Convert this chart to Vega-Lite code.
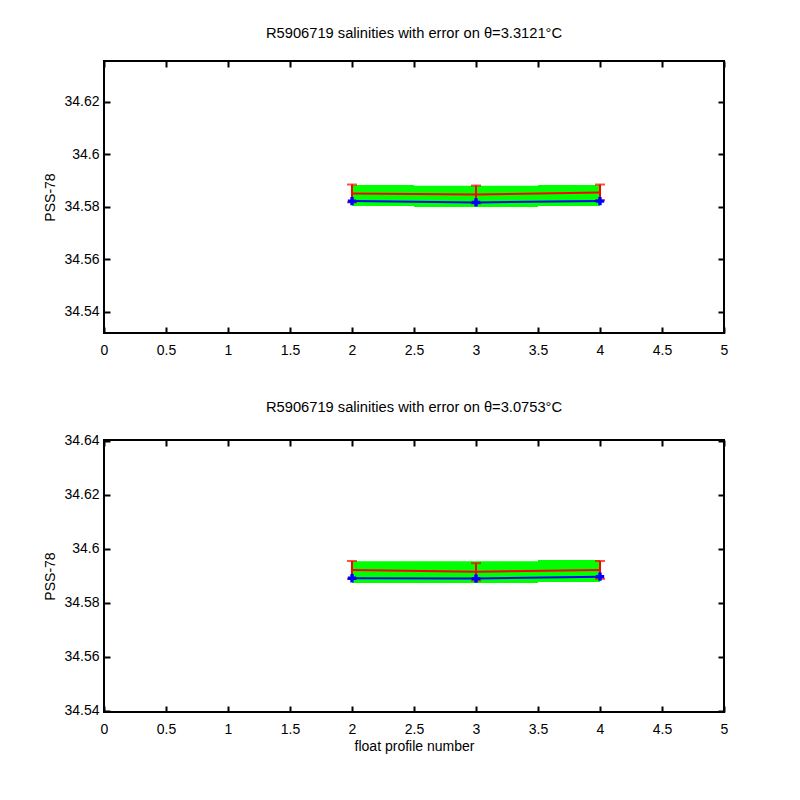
{
  "$schema": "https://vega.github.io/schema/vega-lite/v6.json",
  "padding": {"left": 42, "top": 25, "right": 5, "bottom": 5},
  "background": "white",
  "config": {
    "view": {"stroke": "black", "strokeWidth": 2},
    "font": "Liberation Sans",
    "axis": {"grid": false, "domain": false, "labelFlush": false, "tickColor": "black", "tickSize": 6, "tickWidth": 2, "labelColor": "black", "labelFont": "Liberation Sans", "labelFontSize": 14, "titleColor": "black", "titleFont": "Liberation Sans", "titleFontSize": 14, "titleFontWeight": "normal"},
    "title": {"font": "Liberation Sans", "fontSize": 14.7, "fontWeight": "normal", "color": "black"}
  },
  "datasets": {
    "top_pts": [
      {"p": 2, "blue": 34.5822, "red": 34.5851, "lo": 34.5817, "hi": 34.5885},
      {"p": 3, "blue": 34.5817, "red": 34.5847, "lo": 34.5813, "hi": 34.5881},
      {"p": 4, "blue": 34.5822, "red": 34.5855, "lo": 34.5825, "hi": 34.5885}
    ],
    "top_band": [
      {"x0": 2, "x1": 2.5, "g0": 34.5803, "g1": 34.5883},
      {"x0": 2.5, "x1": 3, "g0": 34.5799, "g1": 34.5880},
      {"x0": 3, "x1": 3.5, "g0": 34.5799, "g1": 34.5880},
      {"x0": 3.5, "x1": 4, "g0": 34.5803, "g1": 34.5883}
    ],
    "bot_pts": [
      {"p": 2, "blue": 34.5890, "red": 34.5921, "lo": 34.5888, "hi": 34.5954},
      {"p": 3, "blue": 34.5889, "red": 34.5914, "lo": 34.5882, "hi": 34.5946},
      {"p": 4, "blue": 34.5896, "red": 34.5921, "lo": 34.5888, "hi": 34.5954}
    ],
    "bot_band": [
      {"x0": 2, "x1": 2.5, "g0": 34.5873, "g1": 34.5953},
      {"x0": 2.5, "x1": 3, "g0": 34.5873, "g1": 34.5953},
      {"x0": 3, "x1": 3.5, "g0": 34.5873, "g1": 34.5953},
      {"x0": 3.5, "x1": 4, "g0": 34.5876, "g1": 34.5958}
    ]
  },
  "spacing": 107,
  "bounds": "flush",
  "vconcat": [
    {
      "width": 620, "height": 272,
      "title": {"text": "R5906719 salinities with error on θ=3.3121°C", "anchor": "middle", "baseline": "alphabetic", "offset": 7},
      "resolve": {"axis": {"x": "independent", "y": "independent"}},
      "layer": [
        {"data": {"name": "top_band"}, "mark": {"type": "rect", "color": "#00ff00"},
         "encoding": {
           "x": {"field": "x0", "type": "quantitative", "scale": {"domain": [0, 5], "nice": false, "zero": false}, "axis": {"orient": "bottom", "values": [0, 0.5, 1, 1.5, 2, 2.5, 3, 3.5, 4, 4.5, 5], "format": "~g", "title": null, "ticks": false, "labelPadding": 10}},
           "x2": {"field": "x1"},
           "y": {"field": "g0", "type": "quantitative", "scale": {"domain": [34.532, 34.6355], "nice": false, "zero": false}, "axis": {"orient": "left", "values": [34.54, 34.56, 34.58, 34.6, 34.62], "format": "~g", "title": "PSS-78", "ticks": false, "labelPadding": 5, "titleX": -54, "titleBaseline": "middle"}},
           "y2": {"field": "g1"}}},
        {"data": {"name": "top_pts"}, "mark": {"type": "rule", "color": "#ff0000", "strokeWidth": 2},
         "encoding": {
           "x": {"field": "p", "type": "quantitative", "scale": {"domain": [0, 5], "nice": false, "zero": false}, "axis": {"orient": "top", "offset": -272, "values": [0, 0.5, 1, 1.5, 2, 2.5, 3, 3.5, 4, 4.5, 5], "labels": false, "title": null}},
           "y": {"field": "lo", "type": "quantitative", "scale": {"domain": [34.532, 34.6355], "nice": false, "zero": false}, "axis": {"orient": "right", "offset": -620, "values": [34.54, 34.56, 34.58, 34.6, 34.62], "labels": false, "title": null}},
           "y2": {"field": "hi"}}},
        {"data": {"name": "top_pts"}, "mark": {"type": "tick", "orient": "horizontal", "color": "#ff0000", "size": 10, "thickness": 2},
         "encoding": {
           "x": {"field": "p", "type": "quantitative", "scale": {"domain": [0, 5], "nice": false, "zero": false}, "axis": {"orient": "bottom", "offset": -272, "values": [0, 0.5, 1, 1.5, 2, 2.5, 3, 3.5, 4, 4.5, 5], "labels": false, "title": null}},
           "y": {"field": "lo", "type": "quantitative", "scale": {"domain": [34.532, 34.6355], "nice": false, "zero": false}, "axis": {"orient": "left", "offset": -620, "values": [34.54, 34.56, 34.58, 34.6, 34.62], "labels": false, "title": null}}}},
        {"data": {"name": "top_pts"}, "mark": {"type": "tick", "orient": "horizontal", "color": "#ff0000", "size": 10, "thickness": 2},
         "encoding": {
           "x": {"field": "p", "type": "quantitative", "scale": {"domain": [0, 5], "nice": false, "zero": false}, "axis": null},
           "y": {"field": "hi", "type": "quantitative", "scale": {"domain": [34.532, 34.6355], "nice": false, "zero": false}, "axis": null}}},
        {"data": {"name": "top_pts"}, "mark": {"type": "line", "color": "#ff0000", "strokeWidth": 2},
         "encoding": {
           "x": {"field": "p", "type": "quantitative", "scale": {"domain": [0, 5], "nice": false, "zero": false}, "axis": null},
           "y": {"field": "red", "type": "quantitative", "scale": {"domain": [34.532, 34.6355], "nice": false, "zero": false}, "axis": null}}},
        {"data": {"name": "top_pts"}, "mark": {"type": "line", "color": "#0000ff", "strokeWidth": 2},
         "encoding": {
           "x": {"field": "p", "type": "quantitative", "scale": {"domain": [0, 5], "nice": false, "zero": false}, "axis": null},
           "y": {"field": "blue", "type": "quantitative", "scale": {"domain": [34.532, 34.6355], "nice": false, "zero": false}, "axis": null}}},
        {"data": {"name": "top_pts"}, "mark": {"type": "point", "shape": "cross", "filled": true, "color": "#0000ff", "size": 70, "opacity": 1},
         "encoding": {
           "x": {"field": "p", "type": "quantitative", "scale": {"domain": [0, 5], "nice": false, "zero": false}, "axis": null},
           "y": {"field": "blue", "type": "quantitative", "scale": {"domain": [34.532, 34.6355], "nice": false, "zero": false}, "axis": null}}}
      ]
    },
    {
      "width": 620, "height": 272,
      "title": {"text": "R5906719 salinities with error on θ=3.0753°C", "anchor": "middle", "baseline": "alphabetic", "offset": 7},
      "resolve": {"axis": {"x": "independent", "y": "independent"}},
      "layer": [
        {"data": {"name": "bot_band"}, "mark": {"type": "rect", "color": "#00ff00"},
         "encoding": {
           "x": {"field": "x0", "type": "quantitative", "scale": {"domain": [0, 5], "nice": false, "zero": false}, "axis": {"orient": "bottom", "values": [0, 0.5, 1, 1.5, 2, 2.5, 3, 3.5, 4, 4.5, 5], "format": "~g", "title": "float profile number", "ticks": false, "labelPadding": 10, "titleY": 38, "titleBaseline": "alphabetic"}},
           "x2": {"field": "x1"},
           "y": {"field": "g0", "type": "quantitative", "scale": {"domain": [34.5395, 34.6402], "nice": false, "zero": false}, "axis": {"orient": "left", "values": [34.54, 34.56, 34.58, 34.6, 34.62, 34.64], "format": "~g", "title": "PSS-78", "ticks": false, "labelPadding": 5, "titleX": -54, "titleBaseline": "middle"}},
           "y2": {"field": "g1"}}},
        {"data": {"name": "bot_pts"}, "mark": {"type": "rule", "color": "#ff0000", "strokeWidth": 2},
         "encoding": {
           "x": {"field": "p", "type": "quantitative", "scale": {"domain": [0, 5], "nice": false, "zero": false}, "axis": {"orient": "top", "offset": -272, "values": [0, 0.5, 1, 1.5, 2, 2.5, 3, 3.5, 4, 4.5, 5], "labels": false, "title": null}},
           "y": {"field": "lo", "type": "quantitative", "scale": {"domain": [34.5395, 34.6402], "nice": false, "zero": false}, "axis": {"orient": "right", "offset": -620, "values": [34.54, 34.56, 34.58, 34.6, 34.62, 34.64], "labels": false, "title": null}},
           "y2": {"field": "hi"}}},
        {"data": {"name": "bot_pts"}, "mark": {"type": "tick", "orient": "horizontal", "color": "#ff0000", "size": 10, "thickness": 2},
         "encoding": {
           "x": {"field": "p", "type": "quantitative", "scale": {"domain": [0, 5], "nice": false, "zero": false}, "axis": {"orient": "bottom", "offset": -272, "values": [0, 0.5, 1, 1.5, 2, 2.5, 3, 3.5, 4, 4.5, 5], "labels": false, "title": null}},
           "y": {"field": "lo", "type": "quantitative", "scale": {"domain": [34.5395, 34.6402], "nice": false, "zero": false}, "axis": {"orient": "left", "offset": -620, "values": [34.54, 34.56, 34.58, 34.6, 34.62, 34.64], "labels": false, "title": null}}}},
        {"data": {"name": "bot_pts"}, "mark": {"type": "tick", "orient": "horizontal", "color": "#ff0000", "size": 10, "thickness": 2},
         "encoding": {
           "x": {"field": "p", "type": "quantitative", "scale": {"domain": [0, 5], "nice": false, "zero": false}, "axis": null},
           "y": {"field": "hi", "type": "quantitative", "scale": {"domain": [34.5395, 34.6402], "nice": false, "zero": false}, "axis": null}}},
        {"data": {"name": "bot_pts"}, "mark": {"type": "line", "color": "#ff0000", "strokeWidth": 2},
         "encoding": {
           "x": {"field": "p", "type": "quantitative", "scale": {"domain": [0, 5], "nice": false, "zero": false}, "axis": null},
           "y": {"field": "red", "type": "quantitative", "scale": {"domain": [34.5395, 34.6402], "nice": false, "zero": false}, "axis": null}}},
        {"data": {"name": "bot_pts"}, "mark": {"type": "line", "color": "#0000ff", "strokeWidth": 2},
         "encoding": {
           "x": {"field": "p", "type": "quantitative", "scale": {"domain": [0, 5], "nice": false, "zero": false}, "axis": null},
           "y": {"field": "blue", "type": "quantitative", "scale": {"domain": [34.5395, 34.6402], "nice": false, "zero": false}, "axis": null}}},
        {"data": {"name": "bot_pts"}, "mark": {"type": "point", "shape": "cross", "filled": true, "color": "#0000ff", "size": 70, "opacity": 1},
         "encoding": {
           "x": {"field": "p", "type": "quantitative", "scale": {"domain": [0, 5], "nice": false, "zero": false}, "axis": null},
           "y": {"field": "blue", "type": "quantitative", "scale": {"domain": [34.5395, 34.6402], "nice": false, "zero": false}, "axis": null}}}
      ]
    }
  ]
}
